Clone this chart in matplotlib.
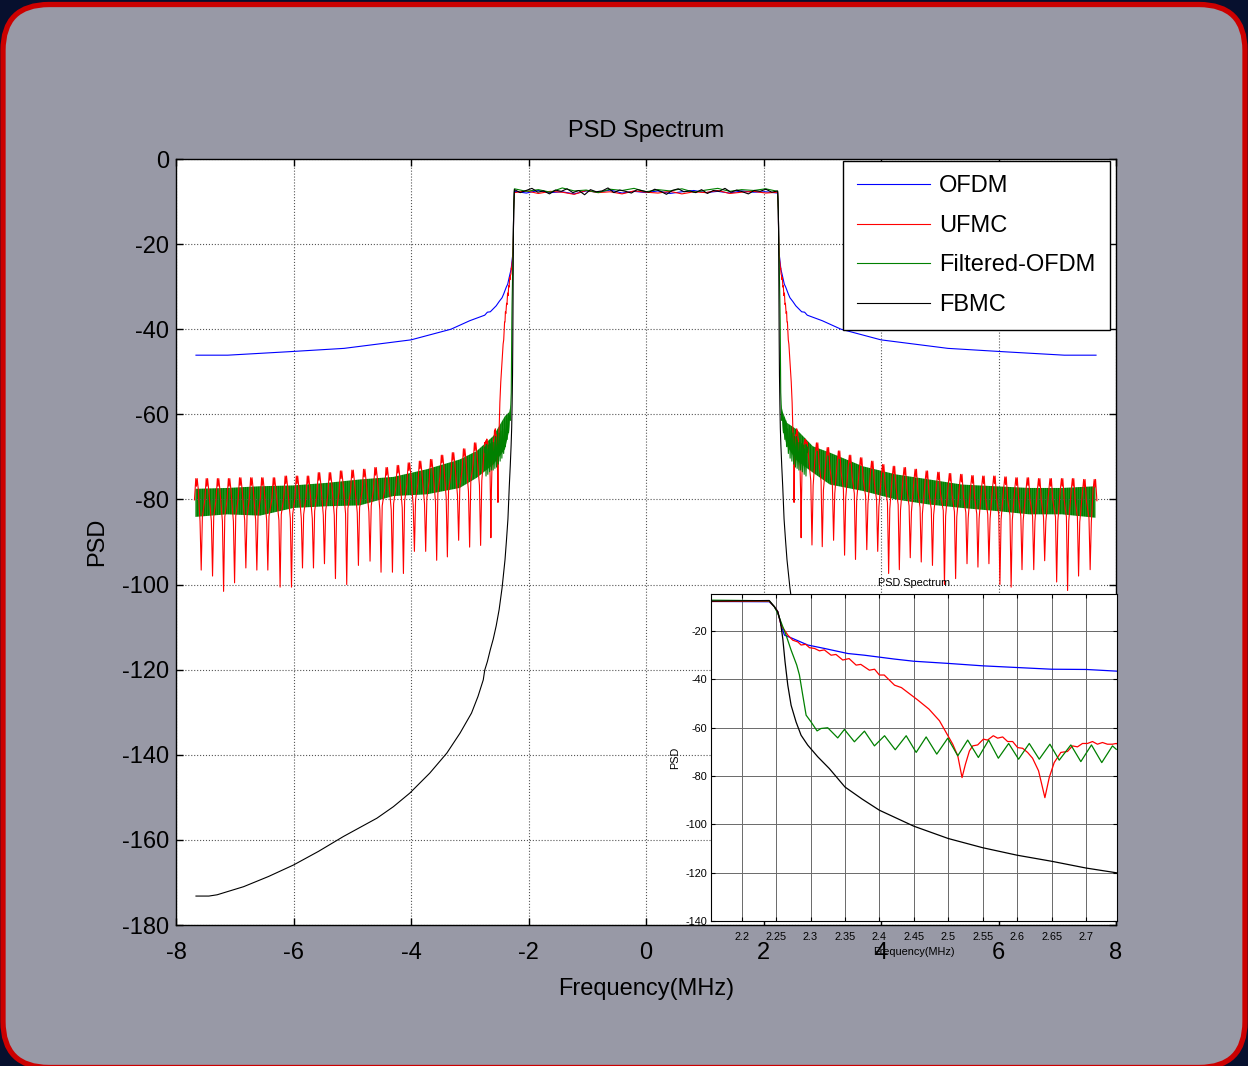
import numpy as np
import matplotlib
matplotlib.use('Agg')
import matplotlib.pyplot as plt
from matplotlib import font_manager
from matplotlib.patches import FancyBboxPatch
from matplotlib.transforms import IdentityTransform

# ---------------- data (MHz, dB) ----------------
# in-band level (flat top), sampled across -2.24..2.24
black_flat = [-7.2, -7.9, -7.4, -6.9, -7.8, -7.5, -8.2, -7.3, -7.6, -7.0,
              -7.9, -7.4, -8.4, -7.2, -7.7, -7.5, -6.8, -7.9, -7.3, -7.6,
              -8.0, -7.2, -7.5, -7.8, -7.1, -7.6, -8.3, -7.4, -7.0, -7.7,
              -7.5, -7.9, -7.2, -8.1, -7.4, -7.6, -6.9, -7.8, -7.3, -7.7,
              -8.2, -7.4, -7.6, -7.1, -7.8, -7.5]
green_flat = [-7.0, -7.6, -7.2, -7.8, -6.8, -7.5, -7.3, -7.9, -7.1, -7.4, -6.9, -7.7,
              -7.2, -7.5, -7.0, -7.8, -7.3, -6.9, -7.6, -7.2, -7.4, -7.0, -7.6]
red_flat = [-7.9, -7.5, -8.1, -7.6, -7.8, -8.3, -7.4, -7.9, -7.7, -8.2, -7.5, -7.8,
            -8.0, -7.6, -8.2, -7.7, -7.9, -7.4, -8.1, -7.8, -7.6, -8.0, -7.8]
blue_flat = [-7.6, -8.0, -7.4, -7.9, -7.7, -8.2, -7.5, -7.8, -7.3, -8.0, -7.6, -7.9,
             -7.5, -8.1, -7.7, -7.4, -7.9, -7.6, -8.0, -7.5, -7.8, -7.7, -8.0]

# OFDM skirt (positive side, mirrored for the negative side)
ofdm_f = [2.2476, 2.2524, 2.2573, 2.2621, 2.2742, 2.296, 2.32, 2.354, 2.378, 2.4218,
          2.45, 2.5, 2.55, 2.6, 2.65, 2.7, 2.745, 3.0, 3.32, 4.0, 5.14, 6.1, 7.12, 7.66]
ofdm_v = [-10.1, -12.1, -17.7, -21.8, -23.2, -25.9, -27.3, -29.4, -30.1, -31.7,
          -32.6, -33.5, -34.5, -35.2, -35.9, -36.0, -36.7, -38.0, -40.0, -42.5,
          -44.5, -45.3, -46.1, -46.1]

# FBMC skirt
fbmc_f = [2.2476, 2.2524, 2.2563, 2.2597, 2.263, 2.267, 2.2718, 2.279, 2.2863, 2.296,
          2.3105, 2.3274, 2.35, 2.375, 2.4, 2.45, 2.5, 2.55, 2.6, 2.65, 2.7, 2.745,
          2.77, 2.86, 2.97, 3.165, 3.39, 3.68, 4.02, 4.30, 4.58, 5.15, 5.575, 6.0,
          6.425, 6.85, 7.3, 7.44, 7.66]
fbmc_v = [-10.1, -12.1, -16.3, -23.2, -32.8, -42.5, -50.8, -57.7, -63.2, -67.3,
          -72.1, -77.0, -84.6, -89.6, -94.2, -100.8, -105.9, -109.7, -112.8, -115.3,
          -118.1, -120.1, -122.4, -126.3, -130.2, -134.9, -139.6, -144.3, -149.0,
          -152.2, -154.9, -159.2, -162.7, -165.9, -168.6, -171.0, -172.9, -173.2, -173.2]

# UFMC close to the band edge (from the zoom panel)
ufmc_in_f = [2.2476, 2.2524, 2.2573, 2.267, 2.2742, 2.2815, 2.2863, 2.293, 2.2985, 2.3057,
             2.313, 2.32, 2.3299, 2.337, 2.3468, 2.356, 2.3662, 2.373, 2.3855, 2.393,
             2.4, 2.407, 2.4146, 2.422, 2.432, 2.443, 2.456, 2.472, 2.4872, 2.4969,
             2.5065, 2.5138, 2.52, 2.5249, 2.5307, 2.5355, 2.5427, 2.551, 2.557, 2.5654,
             2.5717, 2.579, 2.5862, 2.5935, 2.6007, 2.608, 2.6152, 2.6224, 2.6311, 2.6403,
             2.6466, 2.6538, 2.6635, 2.6731, 2.6804, 2.6876, 2.6949, 2.7021, 2.7094, 2.7166,
             2.7239, 2.7311, 2.7384, 2.7439]
ufmc_in_v = [-10.1, -12.1, -17.7, -21.8, -23.9, -24.6, -25.9, -25.6, -27.0, -27.3,
             -28.3, -27.9, -30.1, -29.8, -32.1, -31.5, -34.2, -33.9, -36.3, -35.9,
             -38.3, -38.3, -40.4, -42.5, -43.5, -45.9, -48.7, -52.4, -57.2, -62.1,
             -66.9, -71.7, -80.7, -75.2, -69.7, -67.6, -67.2, -64.8, -65.2, -63.4,
             -64.4, -63.9, -65.8, -65.8, -68.3, -68.6, -70.3, -72.7, -77.9, -89.0,
             -80.7, -74.5, -70.3, -69.9, -67.6, -68.0, -66.6, -66.6, -65.8, -66.9,
             -66.2, -66.9, -66.9, -66.6]

# UFMC notches further out: position, depth and the sidelobe bump level
ufmc_r_spk = [2.825, 3.0, 3.193, 3.38, 3.566, 3.758, 3.944, 4.13, 4.312, 4.498, 4.685,
              4.876, 5.08, 5.27, 5.464, 5.65, 5.837, 6.024, 6.215, 6.40, 6.6, 6.786,
              6.99, 7.176, 7.363, 7.56]
ufmc_r_dep = [-90.7, -91.1, -89.6, -93.1, -94.1, -91.8, -92.2, -97.4, -96.5, -93.7, -94.7,
              -95.5, -100.0, -98.6, -95.1, -95.9, -95.1, -100.0, -100.6, -96.5, -96.5,
              -94.4, -99.4, -101.4, -98.0, -96.5]
ufmc_r_bmp = [-66.7, -67.8, -68.6, -69.6, -70.2, -71.0, -71.8, -72.2, -72.5, -72.9, -73.3,
              -73.6, -73.9, -74.1, -74.4, -74.5, -74.5, -74.7, -74.9, -74.9, -75.1, -75.1,
              -75.1, -75.1, -75.3, -75.3]
ufmc_l_spk = [2.815, 3.002, 3.189, 3.381, 3.563, 3.75, 3.942, 4.129, 4.316, 4.51, 4.697,
              4.895, 5.094, 5.286, 5.473, 5.66, 5.847, 6.034, 6.228, 6.437, 6.624, 6.811,
              7.003, 7.19, 7.378, 7.571]
ufmc_l_dep = [-90.8, -91.2, -89.6, -93.5, -94.3, -92.2, -92.2, -97.4, -97.1, -97.1, -94.5,
              -95.5, -100.0, -98.6, -95.1, -96.1, -96.1, -100.6, -100.6, -96.6, -96.6,
              -96.1, -99.6, -101.6, -98.0, -96.6]
ufmc_l_bmp = [-66.7, -68.1, -69.0, -69.6, -70.6, -71.0, -71.4, -72.0, -72.5, -72.5, -72.9,
              -73.1, -73.3, -73.7, -73.7, -74.5, -74.5, -74.5, -74.9, -74.9, -74.9, -74.9,
              -75.1, -75.1, -75.1, -75.1]

# Filtered-OFDM edge and ripple (zoom panel)
fofdm_edge_f = [2.2476, 2.2524, 2.2597, 2.2645, 2.2718, 2.28, 2.2839, 2.2887, 2.2936, 2.3008]
fofdm_edge_v = [-10.1, -12.8, -18.3, -21.8, -28.0, -34.2, -38.3, -46.6, -54.9, -57.7]
fofdm_rip_f = [2.3095, 2.3153, 2.325, 2.3395, 2.3492, 2.3637, 2.3783, 2.3928, 2.4075, 2.423,
               2.4389, 2.4534, 2.4679, 2.4833, 2.4993, 2.5138, 2.5282, 2.5437, 2.5587, 2.5727,
               2.5877, 2.6021, 2.6176, 2.6321, 2.6476, 2.6611, 2.678, 2.6925, 2.7079, 2.7229,
               2.7384, 2.7439]
fofdm_rip_v = [-61.4, -60.4, -60.1, -64.3, -60.8, -65.9, -61.5, -67.6, -63.4, -69.2,
               -63.4, -70.3, -63.9, -71.0, -64.4, -71.7, -65.2, -72.4, -65.2, -72.7,
               -66.6, -73.1, -66.6, -73.1, -66.9, -73.5, -67.2, -74.1, -67.2, -74.5,
               -67.6, -69.0]
# dense ripple band in the wide view: upper / lower envelope
band_r_f = [2.3008, 2.33, 2.40, 2.56, 2.84, 3.13, 3.69, 4.25, 4.82, 5.38, 5.95, 6.52, 7.08, 7.65]
band_r_top = [-57.7, -59.5, -62.0, -63.5, -67.5, -69.0, -72.2, -74.1, -75.3, -76.5, -76.9,
              -77.3, -77.3, -76.9]
band_r_bot = [-57.7, -63.9, -67.5, -70.8, -73.7, -76.5, -78.0, -80.0, -81.2, -82.0, -82.7,
              -83.5, -83.5, -84.3]
band_l_f = [2.3008, 2.33, 2.40, 2.60, 2.88, 3.17, 3.73, 4.30, 4.87, 5.43, 6.0, 6.57, 7.13, 7.67]
band_l_top = [-57.7, -59.5, -60.4, -65.1, -68.6, -70.6, -72.9, -74.7, -75.3, -76.1, -76.7,
              -76.9, -77.3, -77.5]
band_l_bot = [-57.7, -63.9, -68.2, -71.8, -74.9, -77.3, -78.8, -79.2, -81.4, -81.6, -82.0,
              -83.8, -83.5, -84.1]

main_xticks = [-8, -6, -4, -2, 0, 2, 4, 6, 8]
main_yticks = [-180, -160, -140, -120, -100, -80, -60, -40, -20, 0]
zoom_xticks = [2.2, 2.25, 2.3, 2.35, 2.4, 2.45, 2.5, 2.55, 2.6, 2.65, 2.7]
zoom_yticks = [-140, -120, -100, -80, -60, -40, -20]
labels = ['OFDM', 'UFMC', 'Filtered-OFDM', 'FBMC']
colors = ['#0000ff', '#ff0000', '#008000', '#000000']


# ---------------- helpers ----------------
def both_sides(f, v, flat):
    f = np.asarray(f)
    v = np.asarray(v)
    ff = np.linspace(-2.24, 2.24, len(flat))
    return (np.concatenate([-f[::-1], ff, f]),
            np.concatenate([v[::-1], flat, v]))


def notches(spk, dep, bmp, prev):
    # one notch + sidelobe bump per subband
    f, v = [], []
    for i in range(len(spk)):
        s = spk[i]
        nxt = spk[i + 1] if i + 1 < len(spk) else s + 0.16
        m = (s + nxt) / 2
        b = bmp[i]
        f += [s - 0.02, s, s + 0.02, m - 0.03, m - 0.012, m, m + 0.012, m + 0.035]
        v += [prev - 9, dep[i], b - 10, b - 2.5, b, b - 1.8, b, b - 5]
        prev = b
    return f, v


narrow = 'Liberation Sans Narrow' in {f.name for f in font_manager.fontManager.ttflist}
big = 20 if narrow else 17
plt.rcParams['font.family'] = ['Liberation Sans Narrow', 'Liberation Sans', 'DejaVu Sans'] if narrow \
    else ['Liberation Sans', 'DejaVu Sans']
plt.rcParams['axes.unicode_minus'] = False
plt.rcParams['hatch.color'] = '#008000'
plt.rcParams['hatch.linewidth'] = 1.25

# build series
ofdm_x, ofdm_y = both_sides(ofdm_f, ofdm_v, blue_flat)
fbmc_x, fbmc_y = both_sides(fbmc_f, fbmc_v, black_flat)

rf, rv = notches(ufmc_r_spk, ufmc_r_dep, ufmc_r_bmp, ufmc_in_v[-1])
lf, lv = notches(ufmc_l_spk, ufmc_l_dep, ufmc_l_bmp, ufmc_in_v[-1])
rf = np.array(ufmc_in_f + rf)
rv = np.array(ufmc_in_v + rv)
lf = np.array(ufmc_in_f + lf)
lv = np.array(ufmc_in_v + lv)
ufmc_x = np.concatenate([-lf[::-1], np.linspace(-2.24, 2.24, len(red_flat)), rf])
ufmc_y = np.concatenate([lv[::-1], red_flat, rv])

gf = np.array(fofdm_edge_f + fofdm_rip_f)
gv = np.array(fofdm_edge_v + fofdm_rip_v)
fofdm_x, fofdm_y = both_sides(gf, gv, green_flat)

# ---------------- figure ----------------
fig = plt.figure(figsize=(12.48, 10.66), dpi=100)
fig.patch.set_facecolor('#07102e')
frame = FancyBboxPatch((3, -1.5), 1242, 1063, boxstyle='round,pad=0,rounding_size=46',
                       transform=IdentityTransform(), facecolor='#9899a6',
                       edgecolor='#cc0000', linewidth=3.8, zorder=-10)
fig.add_artist(frame)

ax = fig.add_axes([176 / 1248, 1 - 925 / 1066, 940 / 1248, 766 / 1066])
ax.set_facecolor('white')

ax.plot(ofdm_x, ofdm_y, color=colors[0], lw=0.8, label=labels[0])
ax.plot(ufmc_x, ufmc_y, color=colors[1], lw=0.8, label=labels[1])
ax.fill_between(band_r_f, band_r_bot, band_r_top, facecolor='none', edgecolor=colors[2],
                hatch='|||||||||', linewidth=0)
ax.fill_between(-np.array(band_l_f), band_l_bot, band_l_top, facecolor='none',
                edgecolor=colors[2], hatch='|||||||||', linewidth=0)
ax.plot(fofdm_x, fofdm_y, color=colors[2], lw=0.8, label=labels[2])
ax.plot(fbmc_x, fbmc_y, color=colors[3], lw=0.8, label=labels[3])

ax.set_xlim(-8, 8)
ax.set_ylim(-180, 0)
ax.set_xticks(main_xticks)
ax.set_yticks(main_yticks)
ax.set_xticklabels([str(t) for t in main_xticks])
ax.set_yticklabels([str(t) for t in main_yticks])
ax.tick_params(direction='in', top=True, right=True, length=5, width=1,
               labelsize=big, pad=5)
ax.tick_params(axis='x', pad=12)
ax.grid(True, color='#555555', linestyle=':', linewidth=0.8)
for sp in ax.spines.values():
    sp.set_linewidth(1.0)
ax.set_title('PSD Spectrum', fontsize=big, pad=16)
ax.set_xlabel('Frequency(MHz)', fontsize=big)
ax.xaxis.set_label_coords(0.5, -0.069)
ax.set_ylabel('PSD', fontsize=big)
ax.yaxis.set_label_coords(-0.072, 0.5)

leg = ax.legend(loc='upper right', bbox_to_anchor=(0.9935, 0.997), fontsize=big,
                handlelength=3.1, handletextpad=0.38, labelspacing=0.74,
                borderpad=0.6, borderaxespad=0, fancybox=False, framealpha=1)
leg.get_frame().set_edgecolor('black')
leg.get_frame().set_linewidth(1.0)

# ---------------- zoom panel ----------------
ax2 = fig.add_axes([711 / 1248, 1 - 921 / 1066, 406 / 1248, 327 / 1066])
ax2.set_facecolor('white')
ax2.plot(ofdm_x, ofdm_y, color=colors[0], lw=0.9)
ax2.plot(ufmc_x, ufmc_y, color=colors[1], lw=0.9)
ax2.plot(fofdm_x, fofdm_y, color=colors[2], lw=0.9)
ax2.plot(fbmc_x, fbmc_y, color=colors[3], lw=0.9)
ax2.set_xlim(2.1555, 2.745)
ax2.set_ylim(-140, -4.8)
ax2.set_xticks(zoom_xticks)
ax2.set_yticks(zoom_yticks)
ax2.set_xticklabels([f'{t:g}' for t in zoom_xticks])
ax2.set_yticklabels([str(t) for t in zoom_yticks])
small = 7.8
ax2.tick_params(direction='in', top=True, right=True, length=3, width=0.8,
                labelsize=small, pad=3)
ax2.tick_params(axis='x', pad=8)
ax2.grid(True, color='#6a6a6a', linestyle='-', linewidth=0.7)
ax2.set_title('PSD Spectrum', fontsize=small, pad=6)
ax2.set_xlabel('Frequency(MHz)', fontsize=small)
ax2.xaxis.set_label_coords(0.5, -0.08)
ax2.set_ylabel('PSD', fontsize=small)
ax2.yaxis.set_label_coords(-0.075, 0.5)

fig.savefig('out.png', dpi=100, facecolor=fig.get_facecolor())
